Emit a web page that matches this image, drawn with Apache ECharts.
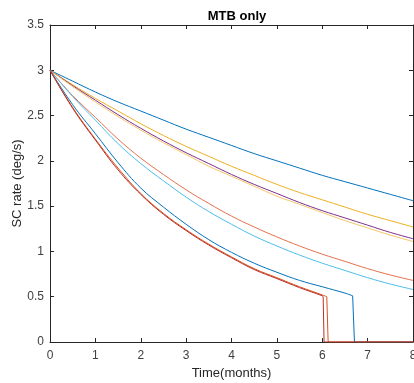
<!DOCTYPE html>
<html>
<head>
<meta charset="utf-8">
<script src="https://cdn.jsdelivr.net/npm/echarts@6/dist/echarts.min.js"></script>
<style>
html,body{margin:0;padding:0;background:#fff;}
#chart{width:414px;height:383px;}
</style>
</head>
<body>
<div id="chart"></div>
<script>
// Time samples (months) and read values
var t = [0, 0.5, 1, 1.5, 2, 2.5, 3, 3.5, 4, 4.5, 5, 5.5, 6, 6.5, 7, 7.5, 8];
var blueTop    = [3, 2.88, 2.76, 2.65, 2.55, 2.45, 2.35, 2.26, 2.17, 2.08, 2.00, 1.92, 1.84, 1.77, 1.70, 1.63, 1.56];
var yellow     = [3, 2.84, 2.69, 2.55, 2.41, 2.28, 2.16, 2.05, 1.94, 1.84, 1.74, 1.65, 1.57, 1.49, 1.41, 1.34, 1.27];
var purple     = [3, 2.83, 2.67, 2.51, 2.36, 2.22, 2.09, 1.97, 1.85, 1.74, 1.64, 1.54, 1.45, 1.37, 1.29, 1.21, 1.14];
var yellowLt   = [3, 2.82, 2.65, 2.49, 2.34, 2.20, 2.07, 1.94, 1.83, 1.72, 1.61, 1.52, 1.43, 1.34, 1.26, 1.18, 1.11];
var orangeMid  = [3, 2.72, 2.48, 2.24, 2.03, 1.85, 1.68, 1.53, 1.39, 1.27, 1.16, 1.06, 0.97, 0.89, 0.81, 0.74, 0.68];
var lightBlue  = [3, 2.71, 2.45, 2.19, 1.97, 1.78, 1.60, 1.44, 1.30, 1.17, 1.06, 0.96, 0.87, 0.79, 0.71, 0.64, 0.58];

// Curves that fall to zero (last 3 points: end of curve, foot of drop, end of axis)
var tBlue2  = [0, 0.5, 1, 1.5, 2, 2.5, 3, 3.5, 4, 4.5, 5, 5.5, 6, 6.5, 6.67, 6.71, 8];
var blue2   = [3, 2.62, 2.30, 1.98, 1.70, 1.49, 1.30, 1.13, 0.99, 0.87, 0.77, 0.68, 0.61, 0.54, 0.51, 0, 0];
var tRed    = [0, 0.5, 1, 1.5, 2, 2.5, 3, 3.5, 4, 4.5, 5, 5.5, 6, 6.02, 6.04, 8];
var red     = [3, 2.58, 2.23, 1.90, 1.63, 1.41, 1.23, 1.07, 0.93, 0.80, 0.70, 0.60, 0.51, 0.50, 0, 0];
var tOrange2 = [0, 0.5, 1, 1.5, 2, 2.5, 3, 3.5, 4, 4.5, 5, 5.5, 6, 6.1, 6.13, 8];
var orange2  = [3, 2.59, 2.24, 1.92, 1.64, 1.42, 1.24, 1.08, 0.94, 0.81, 0.71, 0.61, 0.52, 0.50, 0, 0];

var xTicks = [0, 1, 2, 3, 4, 5, 6, 7, 8];
var yTicks = [0, 0.5, 1, 1.5, 2, 2.5, 3, 3.5];

function pairs(xs, ys) { return xs.map(function (x, i) { return [x, ys[i]]; }); }

var curves = [
  { x: t, y: blueTop,   color: '#0072BD', drop: false },
  { x: t, y: yellow,    color: '#EDB120', drop: false },
  { x: t, y: purple,    color: '#7E2F8E', drop: false },
  { x: t, y: yellowLt,  color: '#F3C766', drop: false },
  { x: t, y: orangeMid, color: '#E5714D', drop: false },
  { x: t, y: lightBlue, color: '#4DBEEE', drop: false },
  { x: tBlue2, y: blue2, color: '#0072BD', drop: true },
  { x: tOrange2, y: orange2, color: '#D95319', drop: true },
  { x: tRed, y: red,    color: '#B8302A', drop: true }
];

var series = [];
curves.forEach(function (c) {
  var all = pairs(c.x, c.y);
  var curvePart = c.drop ? all.slice(0, all.length - 2) : all;
  series.push({
    type: 'line', data: curvePart, showSymbol: false, symbol: 'none',
    smooth: 0.4,
    lineStyle: { color: c.color, width: 1 }, itemStyle: { color: c.color }
  });
  if (c.drop) {
    series.push({
      type: 'line', data: all.slice(all.length - 3), showSymbol: false, symbol: 'none',
      smooth: false,
      lineStyle: { color: c.color, width: 1 }, itemStyle: { color: c.color }
    });
  }
});

var font = 'Liberation Sans, Arial, Helvetica, sans-serif';
var axisCol = '#262626';
var labelCol = '#404040';

var chart = echarts.init(document.getElementById('chart'), null, { renderer: 'canvas' });
chart.setOption({
  animation: false,
  backgroundColor: '#ffffff',
  title: {
    text: 'MTB only',
    left: 232, top: 5, textAlign: 'center',
    textStyle: { fontFamily: font, fontSize: 13, fontWeight: 'bold', color: '#000' }
  },
  grid: { left: 50, right: 1, top: 25, bottom: 41, containLabel: false, outerBoundsMode: 'none' },
  xAxis: [{
    type: 'value', min: 0, max: 8, interval: 1,
    name: 'Time(months)', nameLocation: 'middle', nameGap: 25, nameMoveOverlap: false,
    nameTextStyle: { fontFamily: font, fontSize: 13, color: axisCol },
    axisLine: { show: true, onZero: false, lineStyle: { color: axisCol, width: 1 } },
    axisTick: { show: true, inside: true, length: 4, lineStyle: { color: axisCol } },
    axisLabel: { fontFamily: font, fontSize: 12, color: labelCol, margin: 8, hideOverlap: false,
      formatter: function (v) { return xTicks.indexOf(v) >= 0 ? String(v) : ''; } },
    splitLine: { show: false }
  }, {
    type: 'value', position: 'top', min: 0, max: 8, interval: 1,
    axisLine: { show: true, onZero: false, lineStyle: { color: axisCol, width: 1 } },
    axisTick: { show: true, inside: true, length: 4, lineStyle: { color: axisCol } },
    axisLabel: { show: false }, splitLine: { show: false }
  }],
  yAxis: [{
    type: 'value', min: 0, max: 3.5, interval: 0.5,
    name: 'SC rate (deg/s)', nameLocation: 'middle', nameGap: 26, nameMoveOverlap: false,
    nameTextStyle: { fontFamily: font, fontSize: 13, color: axisCol },
    axisLine: { show: true, onZero: false, lineStyle: { color: axisCol, width: 1 } },
    axisTick: { show: true, inside: true, length: 4, lineStyle: { color: axisCol } },
    axisLabel: { fontFamily: font, fontSize: 12, color: labelCol, margin: 6,
      formatter: function (v) { return yTicks.indexOf(v) >= 0 ? String(v) : ''; } },
    splitLine: { show: false }
  }, {
    type: 'value', position: 'right', min: 0, max: 3.5, interval: 0.5,
    axisLine: { show: true, onZero: false, lineStyle: { color: axisCol, width: 1 } },
    axisTick: { show: true, inside: true, length: 4, lineStyle: { color: axisCol } },
    axisLabel: { show: false }, splitLine: { show: false }
  }],
  series: series
});
</script>
</body>
</html>
